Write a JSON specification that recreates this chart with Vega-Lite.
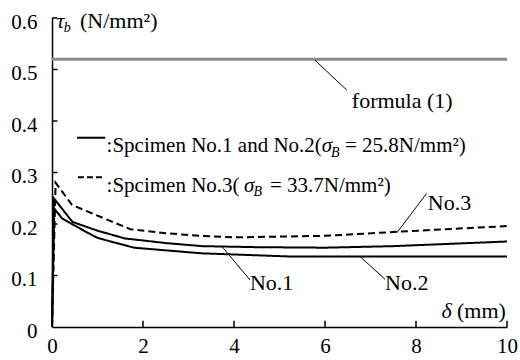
{
  "$schema": "https://vega.github.io/schema/vega-lite/v6.json",
  "width": 455,
  "height": 309,
  "autosize": {"type": "none"},
  "padding": {"left": 52, "top": 18, "right": 13, "bottom": 33},
  "background": "white",
  "config": {"view": {"stroke": null}, "font": "Liberation Serif"},
  "resolve": {"scale": {"strokeDash": "independent"}},
  "datasets": {
    "curves": [
      {"series": "No.1", "d": 0, "tau": 0},
      {"series": "No.1", "d": 0.04, "tau": 0.25},
      {"series": "No.1", "d": 0.45, "tau": 0.204},
      {"series": "No.1", "d": 1.0, "tau": 0.187},
      {"series": "No.1", "d": 1.6, "tau": 0.172},
      {"series": "No.1", "d": 2.5, "tau": 0.163},
      {"series": "No.1", "d": 3.3, "tau": 0.157},
      {"series": "No.1", "d": 4.5, "tau": 0.155},
      {"series": "No.1", "d": 6.0, "tau": 0.154},
      {"series": "No.1", "d": 7.5, "tau": 0.157},
      {"series": "No.1", "d": 10, "tau": 0.166},
      {"series": "No.2", "d": 0, "tau": 0},
      {"series": "No.2", "d": 0.05, "tau": 0.23},
      {"series": "No.2", "d": 0.22, "tau": 0.211},
      {"series": "No.2", "d": 0.7, "tau": 0.187},
      {"series": "No.2", "d": 1.0, "tau": 0.173},
      {"series": "No.2", "d": 1.8, "tau": 0.154},
      {"series": "No.2", "d": 3.3, "tau": 0.143},
      {"series": "No.2", "d": 5.2, "tau": 0.137},
      {"series": "No.2", "d": 10, "tau": 0.137},
      {"series": "No.3", "d": 0, "tau": 0},
      {"series": "No.3", "d": 0.08, "tau": 0.28},
      {"series": "No.3", "d": 0.44, "tau": 0.237},
      {"series": "No.3", "d": 1.06, "tau": 0.214},
      {"series": "No.3", "d": 1.72, "tau": 0.19},
      {"series": "No.3", "d": 2.5, "tau": 0.182},
      {"series": "No.3", "d": 3.26, "tau": 0.177},
      {"series": "No.3", "d": 4.0, "tau": 0.174},
      {"series": "No.3", "d": 6.0, "tau": 0.177},
      {"series": "No.3", "d": 7.6, "tau": 0.185},
      {"series": "No.3", "d": 10, "tau": 0.196}
    ],
    "formula": [
      {"d": 0, "tau": 0.52},
      {"d": 10, "tau": 0.52}
    ],
    "xticks": [{"d": 2}, {"d": 4}, {"d": 6}, {"d": 8}, {"d": 10}],
    "yticks": [{"tau": 0.1}, {"tau": 0.2}, {"tau": 0.3}, {"tau": 0.4}, {"tau": 0.5}, {"tau": 0.6}],
    "legendLines": [
      {"item": "solid", "d": 0.55, "tau": 0.3676},
      {"item": "solid", "d": 1.17, "tau": 0.3676},
      {"item": "dashed", "d": 0.57, "tau": 0.2907},
      {"item": "dashed", "d": 1.12, "tau": 0.2907}
    ],
    "leaders": [
      {"id": "formula", "d": 5.78, "tau": 0.518},
      {"id": "formula", "d": 6.48, "tau": 0.46},
      {"id": "No.3", "d": 7.58, "tau": 0.183},
      {"id": "No.3", "d": 8.23, "tau": 0.259},
      {"id": "No.1", "d": 3.73, "tau": 0.157},
      {"id": "No.1", "d": 4.35, "tau": 0.0913},
      {"id": "No.2", "d": 6.77, "tau": 0.137},
      {"id": "No.2", "d": 7.32, "tau": 0.0926}
    ],
    "annot": [
      {"label": "formula (1)", "d": 6.59, "tau": 0.425},
      {"label": "No.3", "d": 8.26, "tau": 0.227},
      {"label": "No.1", "d": 4.35, "tau": 0.0718},
      {"label": "No.2", "d": 7.32, "tau": 0.0718},
      {"label": "(mm)", "d": 8.9, "tau": 0.018},
      {"label": "(N/mm²)", "d": 0.615, "tau": 0.5806}
    ],
    "italicBig": [
      {"label": "δ", "d": 8.56, "tau": 0.018},
      {"label": "τ", "d": 0.1, "tau": 0.5806}
    ],
    "legendText": [
      {"label": ":Spcimen No.1 and No.2(", "d": 1.2, "tau": 0.3404},
      {"label": "= 25.8N/mm²)", "d": 6.44, "tau": 0.3404},
      {"label": ":Spcimen No.3(", "d": 1.2, "tau": 0.2627},
      {"label": "= 33.7N/mm²)", "d": 4.79, "tau": 0.2627}
    ],
    "sigma": [
      {"label": "σ", "d": 5.93, "tau": 0.3404},
      {"label": "σ", "d": 4.22, "tau": 0.2627}
    ],
    "subs": [
      {"label": "B", "d": 6.13, "tau": 0.3307},
      {"label": "B", "d": 4.43, "tau": 0.255},
      {"label": "b", "d": 0.26, "tau": 0.573}
    ]
  },
  "layer": [
    {
      "data": {"name": "formula"},
      "mark": {"type": "line", "color": "#8a8a8a", "strokeWidth": 3},
      "encoding": {
        "x": {
          "field": "d", "type": "quantitative",
          "scale": {"domain": [0, 10], "nice": false},
          "axis": {
            "values": [0, 2, 4, 6, 8, 10], "title": null, "grid": false, "ticks": false,
            "domainColor": "black", "domainWidth": 1.5,
            "labelPadding": 8, "labelFont": "Liberation Serif", "labelFontSize": 21,
            "labelColor": "black", "labelFlush": false
          }
        },
        "y": {
          "field": "tau", "type": "quantitative",
          "scale": {"domain": [0, 0.6], "nice": false},
          "axis": {
            "values": [0, 0.1, 0.2, 0.3, 0.4, 0.5, 0.6], "title": null, "grid": false, "ticks": false,
            "labelExpr": "datum.value == 0 ? '0' : format(datum.value, '.1f')",
            "domainColor": "black", "domainWidth": 1.5,
            "labelPadding": 15, "labelOffset": 4, "labelFont": "Liberation Serif", "labelFontSize": 21,
            "labelColor": "black", "labelFlush": false
          }
        }
      }
    },
    {
      "data": {"name": "xticks"},
      "mark": {"type": "rule", "color": "black", "strokeWidth": 1.5},
      "encoding": {
        "x": {"field": "d", "type": "quantitative"},
        "y": {"datum": 0},
        "y2": {"datum": 0.012}
      }
    },
    {
      "data": {"name": "yticks"},
      "mark": {"type": "rule", "color": "black", "strokeWidth": 1.5},
      "encoding": {
        "y": {"field": "tau", "type": "quantitative"},
        "x": {"datum": 0},
        "x2": {"datum": 0.12}
      }
    },
    {
      "data": {"name": "curves"},
      "mark": {"type": "line", "color": "black", "strokeWidth": 2},
      "encoding": {
        "x": {"field": "d", "type": "quantitative"},
        "y": {"field": "tau", "type": "quantitative"},
        "detail": {"field": "series"},
        "strokeDash": {
          "field": "series", "type": "nominal",
          "scale": {"domain": ["No.1", "No.2", "No.3"], "range": [[1, 0], [1, 0], [7, 4]]},
          "legend": null
        }
      }
    },
    {
      "data": {"name": "legendLines"},
      "mark": {"type": "line", "color": "black", "strokeWidth": 2},
      "encoding": {
        "x": {"field": "d", "type": "quantitative"},
        "y": {"field": "tau", "type": "quantitative"},
        "detail": {"field": "item"},
        "strokeDash": {
          "field": "item", "type": "nominal",
          "scale": {"domain": ["solid", "dashed"], "range": [[1, 0], [6, 3]]},
          "legend": null
        }
      }
    },
    {
      "data": {"name": "leaders"},
      "mark": {"type": "line", "color": "black", "strokeWidth": 1},
      "encoding": {
        "x": {"field": "d", "type": "quantitative"},
        "y": {"field": "tau", "type": "quantitative"},
        "detail": {"field": "id"}
      }
    },
    {
      "data": {"name": "annot"},
      "mark": {"type": "text", "align": "left", "baseline": "alphabetic", "font": "Liberation Serif", "fontSize": 22, "color": "black"},
      "encoding": {
        "x": {"field": "d", "type": "quantitative"},
        "y": {"field": "tau", "type": "quantitative"},
        "text": {"field": "label"}
      }
    },
    {
      "data": {"name": "italicBig"},
      "mark": {"type": "text", "align": "left", "baseline": "alphabetic", "font": "Liberation Serif", "fontStyle": "italic", "fontSize": 22, "color": "black"},
      "encoding": {
        "x": {"field": "d", "type": "quantitative"},
        "y": {"field": "tau", "type": "quantitative"},
        "text": {"field": "label"}
      }
    },
    {
      "data": {"name": "legendText"},
      "mark": {"type": "text", "align": "left", "baseline": "alphabetic", "font": "Liberation Serif", "fontSize": 21, "color": "black"},
      "encoding": {
        "x": {"field": "d", "type": "quantitative"},
        "y": {"field": "tau", "type": "quantitative"},
        "text": {"field": "label"}
      }
    },
    {
      "data": {"name": "sigma"},
      "mark": {"type": "text", "align": "left", "baseline": "alphabetic", "font": "Liberation Serif", "fontStyle": "italic", "fontSize": 21, "color": "black"},
      "encoding": {
        "x": {"field": "d", "type": "quantitative"},
        "y": {"field": "tau", "type": "quantitative"},
        "text": {"field": "label"}
      }
    },
    {
      "data": {"name": "subs"},
      "mark": {"type": "text", "align": "left", "baseline": "alphabetic", "font": "Liberation Serif", "fontStyle": "italic", "fontSize": 14, "color": "black"},
      "encoding": {
        "x": {"field": "d", "type": "quantitative"},
        "y": {"field": "tau", "type": "quantitative"},
        "text": {"field": "label"}
      }
    }
  ]
}
